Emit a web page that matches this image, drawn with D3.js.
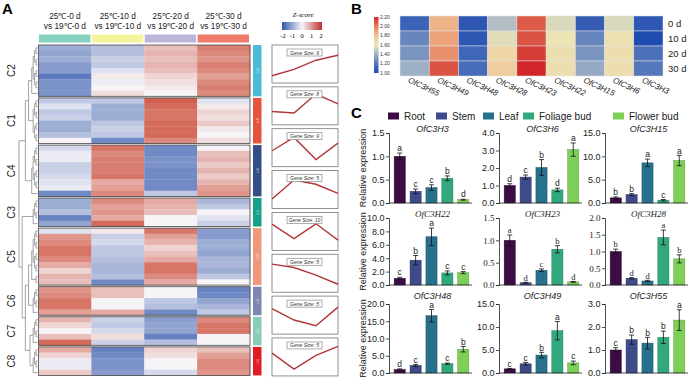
<!DOCTYPE html>
<html>
<head>
<meta charset="utf-8">
<script src="https://cdnjs.cloudflare.com/ajax/libs/d3/7.8.5/d3.min.js"></script>
<style>
body { margin: 0; background: #fff; }
svg { display: block; font-family: Arial, 'Liberation Sans', sans-serif; }
</style>
</head>
<body>
<svg width="691" height="377"></svg>
<script>
// ---------- panel A data ----------
const comparisons = [["25℃-0 d", "vs 19℃-0 d"], ["25℃-10 d", "vs 19℃-10 d"], ["25℃-20 d", "vs 19℃-20 d"], ["25℃-30 d", "vs 19℃-30 d"]];
const compColors = ["#83d0bf", "#f6f49b", "#bab6da", "#ef7b6b"];
const clusterNames = ["C2", "C1", "C4", "C3", "C5", "C6", "C7", "C8"];
const clusterColors = ["#4bbcd6", "#e4533c", "#344e86", "#15a088", "#f1987c", "#7b86b2", "#88cdb6", "#e01b22"];
const clusterSizes = [9, 8, 9, 5, 10, 5, 5, 5];
const dendroTop = [[["C2", "C1"], "C4"], ["C3", [["C5", "C6"], ["C7", "C8"]]]];
const zRows = [
  // C2
  [-0.8, -0.6, 0.5, 1.1], [-0.9, -0.6, 0.6, 1.0], [-0.8, -0.4, 0.5, 0.9], [-1.0, -0.5, 0.6, 1.1], [-1.0, -0.2, 0.5, 1.0],
  [-1.4, 0.1, 0.3, 0.8], [-1.1, -0.1, 0.2, 1.0], [-1.1, 0.0, 0.1, 1.1], [-1.1, 0.2, 0.0, 1.0],
  // C1
  [-0.5, -0.5, 1.4, -0.2], [-0.2, -0.8, 1.3, 0.1], [-0.5, -0.8, 1.2, 0.3], [-0.4, -0.8, 1.2, 0.2],
  [-0.8, -0.5, 1.3, 0.4], [-0.8, -0.4, 1.3, 0.1], [-0.6, -0.5, 1.3, 0.0], [0.0, -1.2, 1.0, 0.2],
  // C4
  [-0.3, 1.2, -1.2, 0.0], [-0.1, 1.0, -1.2, 0.5], [-0.1, 1.1, -1.1, 0.6], [-0.4, 1.1, -1.1, 0.4], [-0.4, 1.1, -1.2, 0.6],
  [-0.3, 1.2, -1.2, 0.4], [-0.2, 0.7, -1.2, 0.6], [-0.1, 0.8, -1.2, 0.8], [-1.2, 1.0, -0.5, 0.9],
  // C3
  [-0.8, 1.0, 0.7, -0.7], [-0.8, 0.8, 0.6, -0.5], [-0.6, 0.9, 0.5, 0.0], [-1.3, 0.7, 0.0, -0.2], [-0.9, 1.3, 0.0, -0.4],
  // C5
  [-0.2, 0.1, 1.2, -1.0], [0.9, -0.4, 0.8, -1.0], [1.0, -0.3, 0.6, -0.8], [1.2, -0.5, 0.3, -0.8], [1.2, -0.5, 0.5, -0.9],
  [1.0, -0.6, 0.7, -0.7], [0.7, -0.7, 1.2, -0.7], [0.3, -0.7, 1.2, -0.8], [0.6, -0.6, 1.0, -0.5], [0.5, -1.2, 0.7, 0.0],
  // C6
  [0.9, 0.5, 0.0, -1.3], [1.0, 0.5, 0.0, -1.2], [1.2, 0.0, -0.5, -0.9], [1.2, 0.0, -0.6, -0.7], [0.8, 0.7, -1.2, -0.5],
  // C7
  [0.6, -0.4, -1.0, 1.0], [0.3, -0.5, -0.9, 1.2], [0.0, -0.3, -0.9, 1.2], [0.5, 0.2, -1.3, 0.0], [1.3, -0.4, -0.6, 0.0],
  // C8
  [0.7, -1.3, 0.3, 0.5], [0.3, -1.2, 0.2, 0.8], [-0.1, -1.1, 0.0, 1.0], [-0.1, -1.1, 0.0, 1.0], [0.4, -1.0, -0.3, 0.9]
];
const zTicks = [-2, -1, 0, 1, 2];
const trendValues = [
  [-0.93, -0.42, 0.30, 0.69],
  [-0.45, -0.57, 0.93, 0.15],
  [-0.24, 0.81, -0.93, 0.36],
  [-0.75, 0.75, 0.42, -0.30],
  [0.57, -0.57, 0.60, -0.69],
  [0.72, 0.45, -0.15, -0.87],
  [0.51, -0.39, -0.84, 0.63],
  [0.30, -0.96, 0.12, 0.84]
];
const trendSizes = [9, 8, 9, 5, 10, 5, 5, 5];

// ---------- panel B data ----------
const genesB = ["OfC3H55", "OfC3H49", "OfC3H48", "OfC3H28", "OfC3H23", "OfC3H22", "OfC3H15", "OfC3H6", "OfC3H3"];
const daysB = ["0 d", "10 d", "20 d", "30 d"];
const valuesB = [
  [1.10, 1.85, 1.05, 1.45, 2.08, 1.55, 1.08, 1.55, 1.05],
  [1.25, 1.90, 1.05, 1.57, 2.10, 1.62, 1.25, 1.63, 1.00],
  [1.30, 1.95, 1.12, 1.70, 2.15, 1.65, 1.30, 1.65, 1.17],
  [1.40, 2.10, 1.15, 1.75, 2.20, 1.65, 1.38, 1.65, 1.20]
];
const legendB = [1.00, 1.20, 1.40, 1.60, 1.80, 2.00, 2.20];

// ---------- panel C data ----------
const tissues = ["Root", "Stem", "Leaf", "Foliage bud", "Flower bud"];
const tissueColors = ["#3e0c45", "#3d4b8a", "#27718d", "#32a97c", "#7ecf58"];
const genesC = ["OfC3H3", "OfC3H6", "OfC3H15", "OfC3H22", "OfC3H23", "OfC3H28", "OfC3H48", "OfC3H49", "OfC3H55"];
const exprMeans = [
  [1.00, 0.25, 0.33, 0.53, 0.07],
  [1.00, 1.48, 2.03, 0.75, 3.05],
  [1.10, 1.80, 8.60, 0.60, 9.10],
  [1.00, 3.70, 7.20, 1.80, 1.85],
  [1.00, 0.05, 0.33, 0.80, 0.07],
  [1.00, 0.20, 0.12, 1.42, 0.78],
  [1.00, 2.20, 16.6, 2.70, 6.90],
  [0.90, 2.00, 3.90, 9.20, 2.20],
  [1.00, 1.45, 1.30, 1.55, 2.30]
];
const exprErrors = [
  [0.07, 0.05, 0.06, 0.05, 0.01],
  [0.10, 0.12, 0.45, 0.10, 0.38],
  [0.20, 0.20, 0.80, 0.15, 1.10],
  [0.15, 0.70, 1.30, 0.30, 0.15],
  [0.12, 0.01, 0.03, 0.08, 0.01],
  [0.07, 0.02, 0.02, 0.22, 0.12],
  [0.20, 0.30, 1.80, 0.20, 0.80],
  [0.10, 0.30, 0.60, 2.00, 0.40],
  [0.10, 0.20, 0.25, 0.27, 0.45]
];
const exprLetters = [
  ["a", "c", "c", "b", "d"],
  ["d", "c", "b", "d", "a"],
  ["b", "b", "a", "c", "a"],
  ["c", "b", "a", "c", "c"],
  ["a", "d", "c", "b", "d"],
  ["b", "d", "d", "a", "b"],
  ["d", "c", "a", "c", "b"],
  ["c", "c", "b", "a", "c"],
  ["c", "b", "b", "b", "a"]
];
const yMaxC = [1.5, 4, 15, 10, 1.5, 2, 20, 15, 3];
const yStepC = [0.5, 1, 5, 2, 0.5, 0.5, 5, 5, 1];

const svg = d3.select('svg');
const serif = "'Liberation Serif', 'DejaVu Serif', serif";
const sans = "Arial, 'Liberation Sans', sans-serif";

// ================= A =================
svg.append('text').attr('x', 2).attr('y', 14).attr('font-size', 15).attr('font-weight', 'bold').text('A');

const nRows = d3.sum(clusterSizes);
const rowH = 5.7, gap = 1.6;
const clusterOfRow = clusterSizes.flatMap((n, ci) => d3.range(n).map(() => ci));
const clusterStart = clusterSizes.map((n, ci) => d3.sum(clusterSizes.slice(0, ci)));
const yRow = d3.scaleLinear().domain([0, nRows]).range([45, 45 + nRows * rowH]);
const rowTop = i => yRow(i) + clusterOfRow[i] * gap;
const xCol = d3.scaleBand().domain(d3.range(4)).range([38.5, 250]);
const zColor = d3.scaleLinear().domain([-1.5, 0, 1.5]).range(["#5070b8", "#f6f4f7", "#cf5542"]).clamp(true);

// column headers
const hdr = svg.append('g').attr('font-size', 8.3).attr('fill', '#222').attr('text-anchor', 'middle');
comparisons.forEach((c, j) => {
  hdr.append('text').attr('x', xCol(j) + xCol.bandwidth() / 2).attr('y', 19).text(c[0]);
  hdr.append('text').attr('x', xCol(j) + xCol.bandwidth() / 2).attr('y', 29).text(c[1]);
});
svg.append('g').selectAll('rect').data(compColors).join('rect')
  .attr('x', (d, j) => xCol(j) + 0.5).attr('y', 34.5)
  .attr('width', xCol.bandwidth() - 1.5).attr('height', 8)
  .attr('fill', d => d);

// heatmap cells
const cells = zRows.flatMap((r, i) => r.map((v, j) => ({ i, j, v })));
svg.append('g').selectAll('rect').data(cells).join('rect')
  .attr('x', d => xCol(d.j)).attr('y', d => rowTop(d.i))
  .attr('width', xCol.bandwidth() + 0.3).attr('height', rowH + 0.3)
  .attr('fill', d => zColor(d.v));

// cluster boxes, side bars and labels
clusterNames.forEach((name, ci) => {
  const top = rowTop(clusterStart[ci]);
  const h = clusterSizes[ci] * rowH;
  svg.append('rect').attr('x', 38.5).attr('y', top).attr('width', 211.5).attr('height', h)
    .attr('fill', 'none').attr('stroke', '#4a4a4a').attr('stroke-width', 0.8);
  svg.append('rect').attr('x', 253).attr('y', top).attr('width', 8.5).attr('height', h)
    .attr('fill', clusterColors[ci]);
  svg.append('text').attr('transform', `translate(258.6,${top + h / 2}) rotate(-90)`)
    .attr('text-anchor', 'middle').attr('font-size', 3.5).attr('fill', '#fff').attr('opacity', 0.8)
    .text('n:' + clusterSizes[ci]);
  svg.append('text').attr('transform', `translate(15,${top + h / 2}) rotate(-90)`)
    .attr('text-anchor', 'middle').attr('font-size', 10).attr('fill', '#222').text(name);
});

// dendrogram
function pairUp(items) {
  let nodes = items;
  while (nodes.length > 1) {
    const next = [];
    for (let i = 0; i < nodes.length; i += 2) next.push(i + 1 < nodes.length ? [nodes[i], nodes[i + 1]] : nodes[i]);
    nodes = next;
  }
  return nodes[0];
}
function expand(n) {
  if (Array.isArray(n)) return n.map(expand);
  const ci = clusterNames.indexOf(n);
  const rows = d3.range(clusterSizes[ci]).map(k => ({ row: clusterStart[ci] + k }));
  return { cluster: n, kids: pairUp(rows) };
}
const root = d3.hierarchy(expand(dendroTop), d => Array.isArray(d) ? d : (d.kids || null));
root.eachAfter(n => {
  if (!n.children) { n.h = 0; n.yy = rowTop(n.data.row) + rowH / 2; return; }
  const inside = n.ancestors().some(a => a.data.cluster);
  n.h = d3.max(n.children, c => c.h) + (inside ? 1 : 2.2);
  n.yy = (n.children[0].yy + n.children[n.children.length - 1].yy) / 2;
});
const xDen = d3.scaleLinear().domain([0, root.h]).range([37.5, 19]);
svg.append('g').selectAll('path').data(root.descendants().filter(n => n.parent)).join('path')
  .attr('d', n => `M${xDen(n.parent.h)},${n.parent.yy}V${n.yy}H${xDen(n.h)}`)
  .attr('fill', 'none').attr('stroke', '#666').attr('stroke-width', 0.6);

// z-score legend
const defs = svg.append('defs');
const zGrad = defs.append('linearGradient').attr('id', 'zgrad');
[["0%", "#3358a8"], ["50%", "#f6f4f7"], ["100%", "#c03030"]].forEach(s =>
  zGrad.append('stop').attr('offset', s[0]).attr('stop-color', s[1]));
const xZ = d3.scaleLinear().domain([-2, 2]).range([283, 321]);
svg.append('text').attr('x', 303).attr('y', 17).attr('text-anchor', 'middle')
  .attr('font-size', 7).attr('font-style', 'italic').attr('font-family', serif).text('Z-score');
svg.append('rect').attr('x', 282).attr('y', 22).attr('width', 40).attr('height', 8).attr('fill', 'url(#zgrad)');
svg.append('g').selectAll('text').data(zTicks).join('text')
  .attr('x', d => xZ(d)).attr('y', 38).attr('text-anchor', 'middle')
  .attr('font-size', 6.5).attr('font-family', serif).text(d => d);

// trend panels
const boxTop = d3.scaleLinear().domain([0, 8]).range([45, 45 + 8 * 41.85]);
const boxH = 38;
const xTrend = d3.scalePoint().domain(d3.range(4)).range([272, 338]);
trendValues.forEach((vals, k) => {
  const top = boxTop(k);
  const yT = d3.scaleLinear().domain([-1.5, 1.5]).range([top + boxH, top]);
  const g = svg.append('g');
  g.append('rect').attr('x', 272).attr('y', top).attr('width', 66).attr('height', boxH)
    .attr('fill', '#fff').attr('stroke', '#777').attr('stroke-width', 0.8);
  g.append('path').datum(vals)
    .attr('d', d3.line().x((d, i) => xTrend(i)).y(d => yT(d)))
    .attr('fill', 'none').attr('stroke', '#b2373a').attr('stroke-width', 1.4);
  g.append('rect').attr('x', 287).attr('y', top + 4).attr('width', 35).attr('height', 7)
    .attr('fill', '#fff').attr('stroke', '#777').attr('stroke-width', 0.6);
  g.append('text').attr('x', 304.5).attr('y', top + 9.5).attr('text-anchor', 'middle')
    .attr('font-size', 5).attr('font-style', 'italic').attr('fill', '#333')
    .text('Gene Size: ' + trendSizes[k]);
});

// ================= B =================
svg.append('text').attr('x', 351).attr('y', 13.5).attr('font-size', 15).attr('font-weight', 'bold').text('B');
const xB = d3.scaleBand().domain(genesB).range([400, 663]);
const yB = d3.scaleBand().domain(daysB).range([16, 76]);
const bColor = d3.scaleLinear().domain(legendB)
  .range(["#1f4cb0", "#5577bb", "#9eb0c6", "#ece6b8", "#f1c596", "#e6805e", "#d0262a"]).clamp(true);
const cellsB = valuesB.flatMap((r, i) => r.map((v, j) => ({ day: daysB[i], gene: genesB[j], v })));
svg.append('g').selectAll('rect').data(cellsB).join('rect')
  .attr('x', d => xB(d.gene)).attr('y', d => yB(d.day))
  .attr('width', xB.bandwidth()).attr('height', yB.bandwidth())
  .attr('fill', d => bColor(d.v)).attr('stroke', '#e4e4e4').attr('stroke-width', 0.5);
svg.append('g').selectAll('text').data(daysB).join('text')
  .attr('x', 668).attr('y', d => yB(d) + yB.bandwidth() / 2 + 3.5)
  .attr('font-size', 9.5).attr('fill', '#222').text(d => d);
svg.append('g').selectAll('text').data(genesB).join('text')
  .attr('transform', d => `translate(${xB(d) + xB.bandwidth() / 2 - 7},${82}) rotate(25)`)
  .attr('font-size', 8).attr('font-style', 'italic').attr('fill', '#222').text(d => d);

// colour legend B
const yLegB = d3.scaleLinear().domain([1, 2.2]).range([73, 17]);
const bGrad = defs.append('linearGradient').attr('id', 'bgrad')
  .attr('x1', 0).attr('y1', 1).attr('x2', 0).attr('y2', 0);
legendB.forEach((v, i) => bGrad.append('stop')
  .attr('offset', (i / (legendB.length - 1) * 100) + '%').attr('stop-color', bColor(v)));
svg.append('rect').attr('x', 374).attr('y', yLegB(2.2)).attr('width', 4.5)
  .attr('height', yLegB(1) - yLegB(2.2)).attr('fill', 'url(#bgrad)');
svg.append('g').selectAll('text').data(legendB).join('text')
  .attr('x', 380).attr('y', d => yLegB(d) + 1.8)
  .attr('font-size', 5).attr('fill', '#333').text(d => d.toFixed(2));

// ================= C =================
svg.append('text').attr('x', 351).attr('y', 118).attr('font-size', 15).attr('font-weight', 'bold').text('C');
const legendX = [388, 436, 483, 523, 613];
const legC = svg.append('g');
tissues.forEach((t, i) => {
  legC.append('rect').attr('x', legendX[i]).attr('y', 112.5).attr('width', 11).attr('height', 7)
    .attr('fill', tissueColors[i]);
  legC.append('text').attr('x', legendX[i] + 16).attr('y', 119.5).attr('font-size', 10)
    .attr('fill', '#222').text(t);
});

const colX = [389, 499, 605];
const rowTopC = [133, 218, 304];
const rowBotC = [203, 285, 373];
const titleY = [133, 217.5, 299.5];
const plotW = 83;
const serifPanels = [4, 5];

genesC.forEach((gene, gi) => {
  const col = gi % 3, row = Math.floor(gi / 3);
  const x0 = colX[col], top = rowTopC[row], bottom = rowBotC[row];
  const useSerif = serifPanels.includes(gi);
  const g = svg.append('g');
  const y = d3.scaleLinear().domain([0, yMaxC[gi]]).range([bottom, top]);
  const x = d3.scaleBand().domain(tissues).range([x0 + 2, x0 + plotW]).paddingInner(0.3).paddingOuter(0.2);
  const data = tissues.map((t, k) => ({ t, m: exprMeans[gi][k], e: exprErrors[gi][k], l: exprLetters[gi][k], c: tissueColors[k] }));

  g.selectAll('rect.bar').data(data).join('rect').attr('class', 'bar')
    .attr('x', d => x(d.t)).attr('y', d => y(d.m))
    .attr('width', x.bandwidth()).attr('height', d => bottom - y(d.m))
    .attr('fill', d => d.c).attr('stroke', d => d3.color(d.c).darker(0.8)).attr('stroke-width', 0.5);

  const eb = g.selectAll('g.err').data(data).join('g').attr('class', 'err')
    .attr('stroke', '#111').attr('stroke-width', 0.8);
  eb.append('line').attr('x1', d => x(d.t) + x.bandwidth() / 2).attr('x2', d => x(d.t) + x.bandwidth() / 2)
    .attr('y1', d => y(d.m - d.e)).attr('y2', d => y(d.m + d.e));
  eb.append('line').attr('x1', d => x(d.t) + x.bandwidth() / 2 - 2.5).attr('x2', d => x(d.t) + x.bandwidth() / 2 + 2.5)
    .attr('y1', d => y(d.m + d.e)).attr('y2', d => y(d.m + d.e));
  eb.append('line').attr('x1', d => x(d.t) + x.bandwidth() / 2 - 2.5).attr('x2', d => x(d.t) + x.bandwidth() / 2 + 2.5)
    .attr('y1', d => y(d.m - d.e)).attr('y2', d => y(d.m - d.e));

  g.selectAll('text.lt').data(data).join('text').attr('class', 'lt')
    .attr('x', d => x(d.t) + x.bandwidth() / 2).attr('y', d => y(d.m + d.e) - 1.8)
    .attr('text-anchor', 'middle').attr('font-size', 8.5).attr('fill', '#222')
    .attr('font-family', useSerif ? serif : sans).text(d => d.l);

  const ax = g.append('g').attr('transform', `translate(${x0},0)`)
    .call(d3.axisLeft(y).tickValues(d3.range(0, yMaxC[gi] + 1e-9, yStepC[gi]))
      .tickFormat(d3.format('.1f')).tickSize(3).tickPadding(1.5));
  ax.attr('font-size', 9).attr('font-family', useSerif ? serif : sans);
  ax.selectAll('path,line').attr('stroke', '#222').attr('stroke-width', 0.8);
  ax.selectAll('text').attr('fill', '#222');
  g.append('line').attr('x1', x0).attr('x2', x0 + plotW).attr('y1', bottom).attr('y2', bottom)
    .attr('stroke', '#222').attr('stroke-width', 0.8);

  g.append('text').attr('x', x0 + plotW / 2 + 2).attr('y', titleY[row] - 1).attr('text-anchor', 'middle')
    .attr('font-size', 9).attr('font-style', 'italic').attr('fill', '#222')
    .attr('font-family', (useSerif || gi === 3) ? serif : sans).text(gene);

  if (col === 0) {
    g.append('text').attr('transform', `translate(366,${(top + bottom) / 2}) rotate(-90)`)
      .attr('text-anchor', 'middle').attr('font-size', 9).attr('fill', '#222').text('Relative expression');
  }
});
</script>
</body>
</html>
